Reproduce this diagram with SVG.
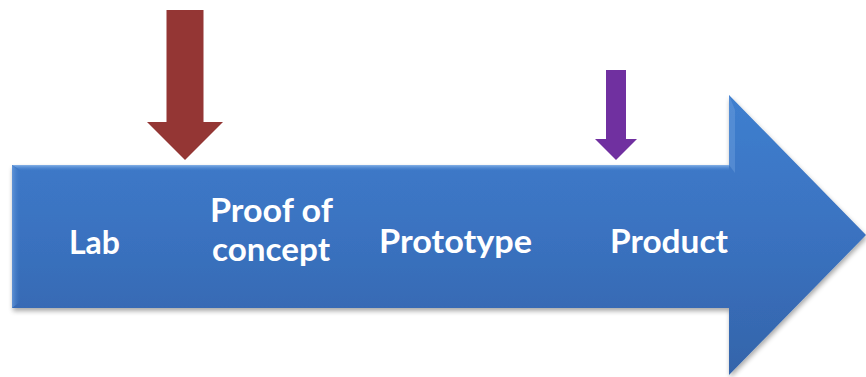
<svg xmlns="http://www.w3.org/2000/svg" width="866" height="377" viewBox="0 0 866 377">
<defs>
<linearGradient id="blueGrad" x1="0" y1="0" x2="0" y2="1">
<stop offset="0" stop-color="#3f7fcf"/>
<stop offset="0.5" stop-color="#3a72c0"/>
<stop offset="1" stop-color="#3464aa"/>
</linearGradient>
<linearGradient id="topBevel" x1="0" y1="0" x2="0" y2="1">
<stop offset="0" stop-color="#8fb8ea" stop-opacity="0.9"/>
<stop offset="1" stop-color="#3f7fcf" stop-opacity="0"/>
</linearGradient>
<linearGradient id="leftBevel" x1="0" y1="0" x2="1" y2="0">
<stop offset="0" stop-color="#6a9bdb" stop-opacity="0.8"/>
<stop offset="1" stop-color="#3f7fcf" stop-opacity="0"/>
</linearGradient>
<filter id="shadow" x="-5%" y="-5%" width="110%" height="115%">
<feGaussianBlur in="SourceAlpha" stdDeviation="2.5"/>
<feOffset dx="1" dy="3" result="b"/>
<feComponentTransfer><feFuncA type="linear" slope="0.35"/></feComponentTransfer>
<feMerge><feMergeNode/><feMergeNode in="SourceGraphic"/></feMerge>
</filter>
</defs>
<style>
.lbl{font-family:Lato,"Liberation Sans",sans-serif;font-weight:700;font-size:31.5px;fill:#ffffff}
</style>
<g id="timeline-arrow">
<path d="M12,165 L729,165 L729,95 L866,235 L729,375 L729,308 L12,308 Z" fill="url(#blueGrad)" filter="url(#shadow)"/>
<path d="M12,165 L729,165 L729,171 L22,171 L12,165 Z" fill="url(#topBevel)"/>
<path d="M729,165 L735,173 L735,110 L729,95 Z" fill="#6a9bdb" opacity="0.5"/>
<path d="M12,165 L20,172 L20,302 L12,308 Z" fill="url(#leftBevel)"/>
</g>
<g id="connectors">
<path id="red-arrow" d="M166.5,10 L203.5,10 L203.5,122 L223,122 L185,160 L147,122 L166.5,122 Z" fill="#943634"/>
<path id="purple-arrow" d="M606,70 L626,70 L626,139 L637,139 L616,160 L595,139 L606,139 Z" fill="#7030a0"/>
</g>
<g id="node-lab"><text class="lbl" x="69" y="254" textLength="51" lengthAdjust="spacingAndGlyphs">Lab</text></g>
<g id="node-poc">
<text class="lbl" x="210" y="222" textLength="123" lengthAdjust="spacingAndGlyphs">Proof of</text>
<text class="lbl" x="212" y="261" textLength="118" lengthAdjust="spacingAndGlyphs">concept</text>
</g>
<g id="node-prototype"><text class="lbl" x="379" y="253" textLength="153" lengthAdjust="spacingAndGlyphs">Prototype</text></g>
<g id="node-product"><text class="lbl" x="610" y="253" textLength="118" lengthAdjust="spacingAndGlyphs">Product</text></g>
</svg>
